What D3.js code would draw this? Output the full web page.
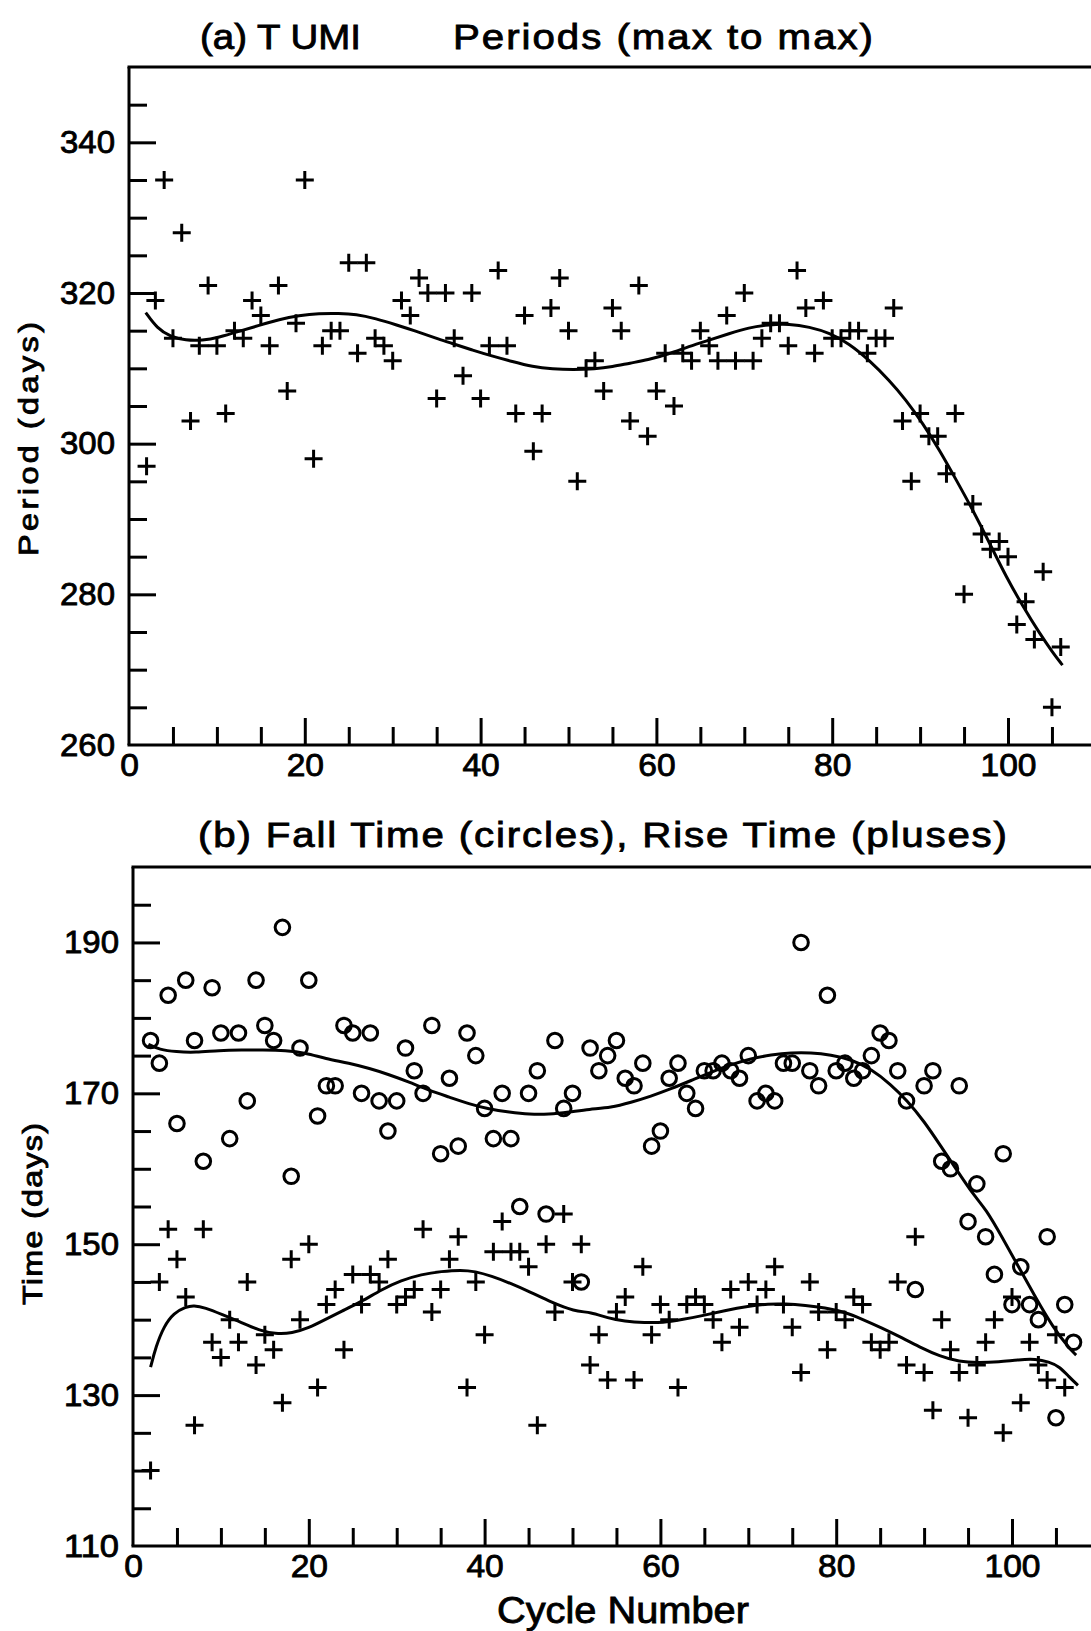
<!DOCTYPE html>
<html><head><meta charset="utf-8">
<script src="https://cdn.jsdelivr.net/npm/d3@7"></script>
<style>
html,body{margin:0;padding:0;background:#fff;}
svg{display:block;}
text{font-family:"Liberation Sans",Arial,sans-serif;fill:#000;}
</style></head><body>
<svg id="chart" width="1091" height="1631"></svg>
<script>
// ---------- DATA ----------
// Panel (a): T UMi periods (max to max)
const periodCycles = [2,3,4,5,6,7,8,9,10,11,12,13,14,15,16,17,18,19,20,21,22,23,24,25,26,27,28,29,30,31,32,33,34,35,36,37,38,39,40,41,42,43,44,45,46,47,48,49,50,51,52,53,54,55,56,57,58,59,60,61,62,63,64,65,66,67,68,69,70,71,72,73,74,75,76,77,78,79,80,81,82,83,84,85,86,87,88,89,90,91,92,93,94,95,96,97,98,99,100,101,102,103,104,105,106];
const periodDays = [297,319,335,314,328,303,313,321,313,304,
 315,314,319,317,313,321,307,316,335,298,
 313,315,315,324,312,324,314,313,311,319,
 317,322,320,306,320,314,309,320,306,313,
 323,313,304,317,299,304,318,322,315,295,
 310,311,307,318,315,303,321,301,307,312,
 305,312,311,315,313,311,317,311,320,311,
 314,316,316,313,323,318,312,319,314,314,
 315,315,312,314,314,318,303,295,304,301,
 301,296,304,280,292,288,286,287,285,276,
 279,274,283,265,273];
const periodFitCycles = [1.9,3.2,4.7,6.45,8.35,10.2,12.5,14.8,17.1,19.35,21.6,23.9,25.8,28.1,30.35,32.6,34.9,36.8,39.1,41.4,43.6,45.9,48.2,50.5,53,55,57,59,61.4,63.7,66,68.25,70.5,72.8,75.1,77.4,79.7,81.9,84.2,86.5,88.4,90.3,92.2,94.1,96,97.9,99.8,101.7,103.6,105.1,106.2];
const periodFitDays = [317.4,315.3,314.2,313.7,313.7,314.1,314.9,315.7,316.5,317.0,317.3,317.3,317.2,316.6,315.8,314.95,314.0,313.3,312.4,311.6,310.9,310.2,309.9,309.8,309.9,310.2,310.7,311.1,311.9,312.9,313.75,314.6,315.4,315.8,315.9,315.5,314.7,313.3,311.1,308.4,305.8,302.7,299.15,295.2,291.2,286.8,282.3,278.4,274.8,272.25,270.6];

// Panel (b): fall time (circles), rise time (pluses)
const fallCycles = [2,3,4,5,6,7,8,9,10,11,12,13,14,15,16,17,18,19,20,21,22,23,24,25,26,27,28,29,30,31,32,33,34,35,36,37,38,39,40,41,42,43,44,45,46,47,48,49,50,51,52,53,54,55,56,57,58,59,60,61,62,63,64,65,66,67,68,69,70,71,72,73,74,75,76,77,78,79,80,81,82,83,84,85,86,87,88,89,90,91,92,93,94,95,96,97,98,99,100,101,102,103,104,105,106,107];
const fallDays = [177,174,183,166,185,177,161,184,178,164,
 178,169,185,179,177,192,159,176,185,167,
 171,171,179,178,170,178,169,165,169,176,
 173,170,179,162,172,163,178,175,168,164,
 170,164,155,170,173,154,177,168,170,145,
 176,173,175,177,172,171,174,163,165,172,
 174,170,168,173,173,174,173,172,175,169,
 170,169,174,174,190,173,171,183,173,174,
 172,173,175,178,177,173,169,144,171,173,
 161,160,171,153,158,151,146,162,142,147,
 142,140,151,127,142,137];
const riseCycles = [2,3,4,5,6,7,8,9,10,11,12,13,14,15,16,17,18,19,20,21,22,23,24,25,26,27,28,29,30,31,32,33,34,35,36,37,38,39,40,41,42,43,44,45,46,47,48,49,50,51,52,53,54,55,56,57,58,59,60,61,62,63,64,65,66,67,68,69,70,71,72,73,74,75,76,77,78,79,80,81,82,83,84,85,86,87,88,89,90,91,92,93,94,95,96,97,98,99,100,101,102,103,104,105,106];
const riseDays = [120,145,152,148,143,126,152,137,135,140,
 137,145,134,138,136,129,148,140,150,131,
 142,144,136,146,142,146,145,148,142,143,
 144,152,141,144,148,151,131,145,138,149,
 153,149,149,147,126,150,141,154,145,150,
 134,138,132,141,143,132,147,138,142,140,
 131,142,143,142,140,137,144,139,145,142,
 144,147,142,139,133,145,141,136,141,140,
 143,142,137,136,137,145,134,151,133,128,
 140,136,133,127,134,137,140,125,143,129,
 137,134,132,138,131];
const fallFitCycles = [1.75,3,4.9,7.1,9.8,12.4,14.7,17.4,19.65,21.9,24.6,26.9,29.1,31.4,33.7,36,38.2,40.5,42.8,45.1,47.3,49.6,51.9,54.4,56.65,58.9,61.2,63.5,65.75,68,70.3,72.6,74.9,77.1,79.4,81.7,84,86.2,88.1,90,91.9,93.8,95.7,97.0,98.9,100.8,102.7,104.6,106.5,107.3];
const fallFitDays = [176.5,175.8,175.5,175.4,175.7,175.75,175.75,175.7,175.35,174.6,174.0,173.3,172.5,171.5,170.4,169.5,168.6,167.9,167.5,167.2,167.2,167.5,167.9,168.1,168.8,169.6,170.6,171.7,172.8,173.8,174.6,175.1,175.4,175.4,175.1,174.5,173.2,171.2,169.0,166.3,163.0,159.7,156.4,154.7,150.9,146.9,142.9,139.1,136.2,135.3];
const riseFitCycles = [2.0,2.6,3.5,4.65,6.0,6.9,8.2,10.1,12.4,14.3,16.2,18.1,20,21.85,23.7,26,28.3,30.5,32.8,35.1,37.35,38.9,40.75,43,45.3,47.6,50.2,52.1,54,55.9,58.2,60.3,62.4,64.7,67.3,70,72.3,74.2,76.5,78.7,81,82.9,85.2,87.5,89.8,91.7,94,96.2,98.5,100.8,102.7,104.2,105.4,106.5,107.5];
const riseFitDays = [133.7,136.4,139.1,140.9,141.7,141.9,141.6,140.7,139.6,138.6,138.1,138.2,138.9,140,141.1,142.4,144,145.2,146,146.4,146.6,146.4,145.8,144.8,143.6,142.3,141.1,141,140.2,139.8,139.6,139.6,140,140.5,141.2,141.8,142.1,142.1,141.9,141.6,141,140.1,138.9,137.6,136.2,135.2,134.4,134.3,134.4,134.7,134.8,134.4,133.8,132.4,131.3];

// Ticks
const xMinorTicks = [5,10,15,25,30,35,45,50,55,65,70,75,85,90,95,105];
const xMajorTicks = [20,40,60,80,100];
const xTickLabels = [0,20,40,60,80,100];
const yMinorTicksA = [265,270,275,285,290,295,305,310,315,325,330,335,345];
const yMajorTicksA = [280,300,320,340];
const yTickLabelsA = [260,280,300,320,340];
const yMinorTicksB = [115,120,125,135,140,145,155,160,165,175,180,185,195];
const yMajorTicksB = [130,150,170,190];
const yTickLabelsB = [110,130,150,170,190];

// ---------- DRAWING ----------
const W = 1091;
const svg = d3.select("#chart");
const FONT = '"Liberation Sans", Arial, sans-serif';
const TEXT_STROKE = 0.85;

const xA = d3.scaleLinear().domain([0,100]).range([129,1008]);
const yA = d3.scaleLinear().domain([260,350]).range([745,67]);
const xB = d3.scaleLinear().domain([0,100]).range([133,1012]);
const yB = d3.scaleLinear().domain([110,200]).range([1546,867]);

function styleAxis(s, size) {
  s.select(".domain").remove();
  s.selectAll(".tick line").attr("stroke", "#000").attr("stroke-width", 3);
  s.attr("font-family", FONT).attr("font-size", size);
  s.selectAll(".tick text").attr("fill", "#000").attr("stroke", "#000").attr("stroke-width", TEXT_STROKE)
    .attr("transform", "scale(1.05,1)");
}

function drawFrame(x, y, yMinor, yMajor, yLabels) {
  const g = svg.append("g");
  const [y0, y1] = y.domain();
  const ax = x(0), ay = y(y0), top = y(y1);
  g.append("g").attr("transform", `translate(${ax},0)`)
    .call(d3.axisRight(y).tickValues(yMinor).tickSize(18).tickFormat(""))
    .call(s => styleAxis(s, 32));
  g.append("g").attr("transform", `translate(${ax},0)`)
    .call(d3.axisRight(y).tickValues(yMajor).tickSize(27).tickFormat(""))
    .call(s => styleAxis(s, 32));
  const yl = g.append("g").attr("transform", `translate(${ax},0)`)
    .call(d3.axisLeft(y).tickValues(yLabels).tickSize(0).tickPadding(14))
    .call(s => styleAxis(s, 32));
  yl.selectAll(".tick text").attr("transform", null).attr("textLength", 55).attr("lengthAdjust", "spacingAndGlyphs");
  g.append("g").attr("transform", `translate(0,${ay})`)
    .call(d3.axisTop(x).tickValues(xMinorTicks).tickSize(18).tickFormat(""))
    .call(s => styleAxis(s, 32));
  g.append("g").attr("transform", `translate(0,${ay})`)
    .call(d3.axisTop(x).tickValues(xMajorTicks).tickSize(27).tickFormat(""))
    .call(s => styleAxis(s, 32));
  g.append("g").attr("transform", `translate(0,${ay})`)
    .call(d3.axisBottom(x).tickValues(xTickLabels).tickSize(0).tickPadding(8))
    .call(s => styleAxis(s, 32));
  const lines = [[ax, top, ax, ay], [ax - 1.5, ay, W, ay], [ax - 1.5, top, W, top]];
  lines.forEach(l => g.append("line").attr("x1", l[0]).attr("y1", l[1]).attr("x2", l[2]).attr("y2", l[3])
    .attr("stroke", "#000").attr("stroke-width", 3));
}

function drawPluses(x, y, cs, vs) {
  svg.append("g").selectAll("path").data(cs.map((c, i) => [c, vs[i]])).join("path")
    .attr("d", d => `M${x(d[0]) - 9},${y(d[1])}H${x(d[0]) + 9}M${x(d[0])},${y(d[1]) - 9}V${y(d[1]) + 9}`)
    .attr("stroke", "#000").attr("stroke-width", 3).attr("fill", "none");
}
function drawCircles(x, y, cs, vs) {
  svg.append("g").selectAll("circle").data(cs.map((c, i) => [c, vs[i]])).join("circle")
    .attr("cx", d => x(d[0])).attr("cy", d => y(d[1])).attr("r", 7.3)
    .attr("stroke", "#000").attr("stroke-width", 3).attr("fill", "none");
}
function drawFit(x, y, cs, vs) {
  const line = d3.line().x(d => x(d[0])).y(d => y(d[1])).curve(d3.curveBasis);
  svg.append("path").datum(cs.map((c, i) => [c, vs[i]])).attr("d", line)
    .attr("fill", "none").attr("stroke", "#000").attr("stroke-width", 3);
}

function fitText(str, opt) {
  const t = svg.append("text").text(str).attr("font-size", opt.size)
    .attr("text-anchor", opt.anchor || "start")
    .attr("stroke", "#000").attr("stroke-width", TEXT_STROKE);
  const w = t.node().getComputedTextLength();
  const sx = Math.min(opt.width / w, opt.maxScale || 1.15);
  t.attr("textLength", opt.width / sx).attr("lengthAdjust", "spacing");
  t.attr("transform", `translate(${opt.x},${opt.y})${opt.rotate ? " rotate(-90)" : ""} scale(${sx},1)`);
}

// Panel (a)
drawFrame(xA, yA, yMinorTicksA, yMajorTicksA, yTickLabelsA);
drawFit(xA, yA, periodFitCycles, periodFitDays);
drawPluses(xA, yA, periodCycles, periodDays);

// Panel (b)
drawFrame(xB, yB, yMinorTicksB, yMajorTicksB, yTickLabelsB);
drawFit(xB, yB, fallFitCycles, fallFitDays);
drawFit(xB, yB, riseFitCycles, riseFitDays);
drawCircles(xB, yB, fallCycles, fallDays);
drawPluses(xB, yB, riseCycles, riseDays);

// Texts
fitText("(a) T UMI", {x: 200, y: 49, width: 161, size: 35});
fitText("Periods (max to max)", {x: 453, y: 49, width: 420, size: 35});
fitText("(b) Fall Time (circles), Rise Time (pluses)", {x: 198, y: 847, width: 809, size: 35});
fitText("Cycle Number", {x: 497, y: 1623, width: 252, size: 37});
fitText("Period (days)", {x: 38, y: 439, width: 234, size: 27, anchor: "middle", rotate: true, maxScale: 1.2});
fitText("Time (days)", {x: 42, y: 1214, width: 182, size: 27, anchor: "middle", rotate: true, maxScale: 1.2});
</script>
</body></html>
